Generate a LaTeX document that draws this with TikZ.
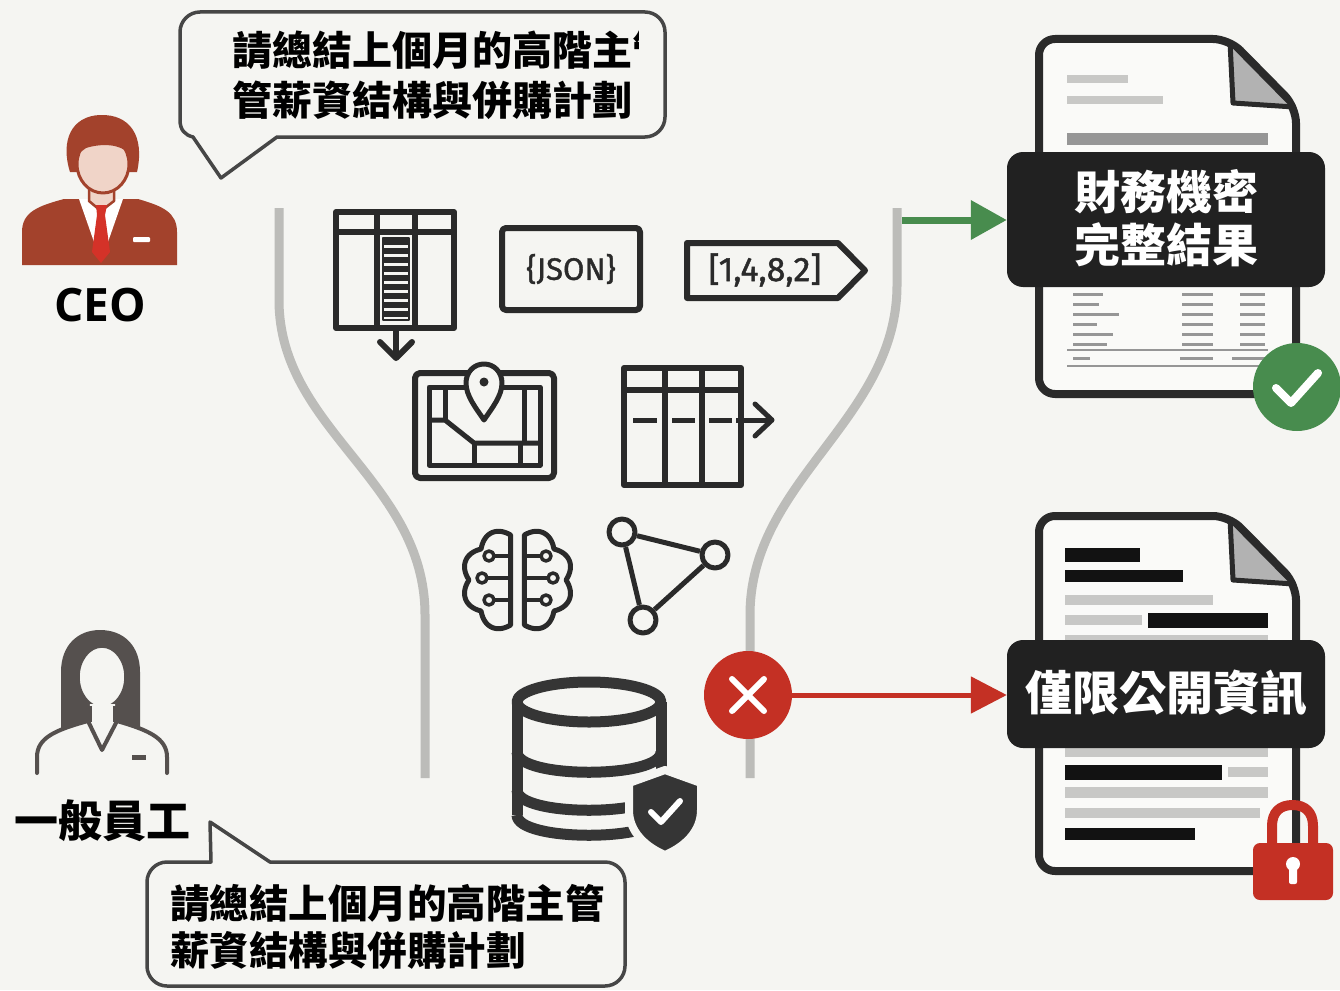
\documentclass[tikz,border=0pt]{standalone}
\usepackage{fontspec}
\usetikzlibrary{arrows.meta}
\newfontfamily\cjk{Noto Sans CJK TC}
\newfontfamily\opensans{Open Sans}
\newfontfamily\firasans{Fira Sans}[FakeBold=1.2]
\definecolor{bg}{RGB}{245,245,242}
\definecolor{ink}{RGB}{42,42,42}
\definecolor{bubbleink}{RGB}{70,70,70}
\definecolor{funnel}{RGB}{188,188,185}
\definecolor{suit}{RGB}{163,66,44}
\definecolor{skin}{RGB}{240,212,200}
\definecolor{tiered}{RGB}{212,50,40}
\definecolor{staff}{RGB}{85,80,78}
\definecolor{okgreen}{RGB}{72,140,78}
\definecolor{alertred}{RGB}{196,48,36}
\definecolor{labelbg}{RGB}{33,33,33}
\definecolor{barlight}{RGB}{200,200,198}
\definecolor{barmid}{RGB}{150,150,150}
\definecolor{bardark}{RGB}{18,18,18}
\definecolor{foldgray}{RGB}{178,178,178}
\definecolor{page}{RGB}{250,250,248}
% page outline with folded corner
\newcommand\docsheet{%
  \filldraw[fill=page, draw=ink, line width=8pt, rounded corners=16pt]
    (1039,39) -- (1229,39) -- (1296,107) -- (1296,394) -- (1039,394) -- cycle;
  \filldraw[fill=foldgray, draw=ink, line width=5pt, line join=round]
    (1230,42) -- (1233,103) -- (1294,107) -- cycle;
}
\begin{document}
\begin{tikzpicture}[x=1pt, y=-1pt, line join=round,
  icon/.style={draw=ink, line width=6pt},
  thinicon/.style={draw=ink, line width=5pt},
  bubble/.style={draw=bubbleink, line width=3.5pt, fill=bg},
  funnelline/.style={draw=funnel, line width=9pt},
  qtext/.style={anchor=base west, inner sep=0pt, text=black},
  labeltext/.style={anchor=base, inner sep=0pt, text=white, font=\cjk\bfseries\fontsize{46}{53}\selectfont},
  labelbox/.style={fill=labelbg, rounded corners=16pt, inner sep=0pt, minimum width=318pt},
  netnode/.style={circle, draw=ink, line width=5pt, fill=bg, minimum size=26pt, inner sep=0pt},
  lightbar/.style={fill=barlight},
  darkbar/.style={fill=bardark},
  rowbar/.style={fill=barmid},
]
\useasboundingbox (0,0) rectangle (1340,990);
\fill[bg] (0,0) rectangle (1340,990);

% ---------- funnel walls ----------
\draw[funnelline] (279,208) -- (279,300) .. controls (279,430) and (425,480) .. (425,615) -- (425,778);
\draw[funnelline] (897,208) -- (897,285) .. controls (897,420) and (750,480) .. (750,615) -- (750,778);

% ---------- table with highlighted column ----------
\draw[icon] (336,212) rectangle (454,328);
\draw[icon] (336,232) -- (454,232);
\draw[icon] (377,212) -- (377,328);
\draw[icon] (415,212) -- (415,328);
\draw[ink, line width=2.5pt] (383,238) rectangle (409,320);
\foreach \i in {0,...,8}
  \fill[ink] (383,{239+\i*9}) rectangle (409,{244.5+\i*9});
\draw[icon] (396,328) -- (396,357);
\draw[icon, line cap=round] (380,342) -- (396,358) -- (412,342);

% ---------- JSON box ----------
\draw[icon, rounded corners=4pt] (502,228) rectangle (640,310);
\node[inner sep=0pt, font=\firasans\fontsize{31}{36}\selectfont, text=ink] (json) at (571,269) {\{JSON\}};

% ---------- array tag ----------
\draw[icon] (687,243) -- (838,243) -- (865,270.5) -- (838,298) -- (687,298) -- cycle;
\node[inner sep=0pt, font=\firasans\fontsize{34}{40}\selectfont, text=ink] (arr) at (765,270) {[1,4,8,2]};

% ---------- map ----------
\draw[icon, rounded corners=5pt] (415,373) rectangle (554,478);
\draw[thinicon] (429,387) rectangle (540,465);
\draw[thinicon] (445,387) -- (445,420);
\draw[thinicon] (429,420) -- (445,420) -- (474,443) -- (540,443);
\draw[thinicon] (474,443) -- (474,465);
\draw[thinicon] (524,387) -- (524,443);
\draw[thinicon] (520,443) -- (520,465);
\filldraw[fill=bg, draw=ink, line width=5pt]
  (484,420) .. controls (476,408) and (466,396) .. (466,383)
  .. controls (466,372) and (474,364) .. (484,364)
  .. controls (494,364) and (502,372) .. (502,383)
  .. controls (502,396) and (492,408) .. (484,420) -- cycle;
\fill[ink] (484,382) circle (4.5);

% ---------- table with row export ----------
\draw[icon] (624,368) rectangle (741,485);
\draw[icon] (624,390) -- (741,390);
\draw[icon] (665,368) -- (665,485);
\draw[icon] (702,368) -- (702,485);
\foreach \a/\b in {633/657, 672/695, 709/732}
  \draw[ink, line width=5pt] (\a,420) -- (\b,420);
\draw[ink, line width=5pt] (736,420) -- (770,420);
\draw[ink, line width=5pt, line cap=round] (755,404) -- (772,420) -- (755,436);

% ---------- brain: two lobed hemispheres with circuit traces ----------
\draw[thinicon] plot[domain=93:267, samples=140]
  ({513+(44+7*abs(sin(4.138*(\x-93))))*cos(\x)}, {580+(45+7*abs(sin(4.138*(\x-93))))*sin(\x)}) -- cycle;
\draw[thinicon] plot[domain=-87:87, samples=140]
  ({522+(44+7*abs(sin(4.138*(\x+87))))*cos(\x)}, {580+(45+7*abs(sin(4.138*(\x+87))))*sin(\x)}) -- cycle;
\foreach \y/\l in {556/489, 578/482, 600/489} {
  \draw[ink, line width=4pt] (\l+5,\y) -- (509,\y);
  \draw[ink, line width=3.5pt, fill=bg] (\l,\y) circle (5);
}
\foreach \y/\r in {556/546, 578/553, 600/546} {
  \draw[ink, line width=4pt] (526,\y) -- (\r-5,\y);
  \draw[ink, line width=3.5pt, fill=bg] (\r,\y) circle (5);
}

% ---------- network ----------
\node[netnode] (na) at (622,532) {};
\node[netnode] (nb) at (715,555) {};
\node[netnode] (nc) at (643,620) {};
\draw[ink, line width=5pt] (na) -- (nb);
\draw[ink, line width=5pt] (nb) -- (nc);
\draw[ink, line width=5pt] (na) -- (nc);

% ---------- database with shield ----------
\begin{scope}[draw=ink!95, line width=11pt]
  \draw (589,702) ellipse [x radius=72, y radius=20];
  \draw (517,702) -- (517,815);
  \draw (661,702) -- (661,815);
  \draw (517,752) .. controls (517,779) and (661,779) .. (661,752);
  \draw (517,790) .. controls (517,817) and (661,817) .. (661,790);
  \draw (517,815) .. controls (517,842) and (661,842) .. (661,815);
\end{scope}
\filldraw[fill=ink!95, draw=bg, line width=8pt]
  (665,770) -- (701,783) -- (701,810) .. controls (701,832) and (684,847) .. (665,855)
  .. controls (646,847) and (629,832) .. (629,810) -- (629,783) -- cycle;
\draw[white, line width=6pt, line cap=round] (651,812) -- (661,822) -- (680,801);

% ---------- CEO ----------
\fill[suit] (22,265) -- (22,232) .. controls (22,212) and (38,206) .. (64,199)
  -- (138,199) .. controls (162,206) and (177,212) .. (177,232) -- (177,265) -- cycle;
\fill[white] (79,199) -- (123,199) -- (101,262) -- cycle;
\filldraw[fill=skin, draw=suit, line width=2.5pt] (89,182) -- (89,201) -- (101,211) -- (114,201) -- (114,182) -- cycle;
\fill[suit] (70,172) .. controls (60,140) and (72,116) .. (100,115)
  .. controls (130,114) and (145,136) .. (137,172) -- cycle;
\filldraw[fill=skin, draw=suit, line width=3pt] (103,164) ellipse [x radius=26, y radius=29];
\fill[suit] (78,154) .. controls (78,138) and (90,129) .. (104,130)
  .. controls (119,130) and (128,140) .. (129,154) .. controls (121,144) and (102,143) .. (86,148) -- cycle;
\fill[tiered] (96,205) -- (107,205) -- (105,215) -- (110,252) -- (101,263) -- (92,252) -- (97,215) -- cycle;
\fill[white, rounded corners=1pt] (133,237) rectangle (150,242);
\node[inner sep=0pt, anchor=base, font=\opensans\bfseries\fontsize{46}{50}\selectfont] (ceo) at (100,321) {CEO};

% ---------- staff member ----------
\fill[staff] (61,735) -- (61,672) .. controls (61,645) and (78,630) .. (100,630)
  .. controls (124,630) and (140,646) .. (140,672) -- (140,735) -- cycle;
\filldraw[fill=bg, draw=staff, line width=3.5pt] (102,677) ellipse [x radius=24, y radius=31];
\fill[bg] (37,775) -- (37,757) .. controls (37,738) and (55,730) .. (88,721) -- (90,704) -- (115,704)
  -- (117,721) .. controls (148,730) and (167,738) .. (167,757) -- (167,775) -- cycle;
\draw[staff, line width=4pt] (90,706) -- (90,722);
\draw[staff, line width=4pt] (115,706) -- (115,722);
\draw[staff, line width=4pt, line cap=round] (37,773) -- (37,757) .. controls (37,738) and (55,730) .. (88,721)
  -- (102,750) -- (117,721) .. controls (148,730) and (167,738) .. (167,757) -- (167,773);
\fill[staff] (132,755) rectangle (146,760);
\node[inner sep=0pt, anchor=base, font=\cjk\bfseries\fontsize{44}{50}\selectfont] (staffname) at (102,837) {一般員工};

% ---------- speech bubbles ----------
\draw[bubble] (180,32) -- (180,120) .. controls (180,130) and (185,135) .. (193,137)
  -- (221,178) -- (277,137) -- (645,137) .. controls (656,137) and (665,128) .. (665,117)
  -- (665,32) .. controls (665,21) and (656,12) .. (645,12) -- (200,12)
  .. controls (189,12) and (180,21) .. (180,32) -- cycle;
\begin{scope}
  \clip (220,20) rectangle (638,80);
  \node[qtext, font=\cjk\bfseries\fontsize{40}{48}\selectfont] (qa) at (232,65) {請總結上個月的高階主管};
\end{scope}
\node[qtext, font=\cjk\bfseries\fontsize{40}{48}\selectfont] (qb) at (232,115) {管薪資結構與併購計劃};

\draw[bubble] (147,882) .. controls (147,871) and (156,862) .. (167,862) -- (211,862)
  -- (210,822) -- (270,862) -- (605,862) .. controls (616,862) and (625,871) .. (625,882)
  -- (625,966) .. controls (625,977) and (616,986) .. (605,986) -- (167,986)
  .. controls (156,986) and (147,977) .. (147,966) -- cycle;
\node[qtext, font=\cjk\bfseries\fontsize{39.5}{47}\selectfont] (qc) at (170,918) {請總結上個月的高階主管};
\node[qtext, font=\cjk\bfseries\fontsize{39.5}{47}\selectfont] (qd) at (170,965) {薪資結構與併購計劃};

% ---------- full result document ----------
\docsheet
\fill[lightbar] (1067,75) rectangle (1128,83);
\fill[lightbar] (1067,96) rectangle (1163,104);
\fill[barmid] (1067,133) rectangle (1268,145);
\foreach \y/\w in {293/30, 303/26, 313/46, 323/24, 333/40, 343/34} {
  \fill[rowbar] (1073,\y) rectangle (1073+\w,\y+2.5);
  \fill[rowbar] (1182,\y) rectangle (1213,\y+2.5);
  \fill[rowbar] (1240,\y) rectangle (1265,\y+2.5);
}
\draw[barmid, line width=1.5pt] (1067,350) -- (1268,350);
\fill[rowbar] (1073,357) rectangle (1090,359.5);
\fill[rowbar] (1180,357) rectangle (1213,359.5);
\fill[rowbar] (1232,357) rectangle (1265,359.5);
\draw[barmid, line width=1.5pt] (1067,366) -- (1268,366);
\node[labelbox, minimum height=135pt] (fin) at (1166,219.5) {};
\node[labeltext] (finA) at (1166,209.5) {財務機密};
\node[labeltext] (finB) at (1166,262.5) {完整結果};
\node[circle, fill=okgreen, minimum size=88pt, inner sep=0pt] (okmark) at (1297,387) {};
\draw[white, line width=8pt, line cap=round] (1276,388) -- (1291,403) -- (1318,373);

% ---------- public-only document ----------
\begin{scope}[shift={(0,477)}]
  \docsheet
\end{scope}
\fill[darkbar] (1065,548) rectangle (1140,562);
\fill[darkbar] (1065,570) rectangle (1183,582);
\fill[lightbar] (1065,595) rectangle (1213,605);
\fill[lightbar] (1065,615) rectangle (1142,625);
\fill[darkbar] (1148,613) rectangle (1268,628);
\fill[lightbar] (1065,635) rectangle (1268,641);
\fill[lightbar] (1065,748) rectangle (1268,757);
\fill[darkbar] (1065,765) rectangle (1222,780);
\fill[lightbar] (1228,767) rectangle (1268,777);
\fill[lightbar] (1065,787) rectangle (1268,798);
\fill[lightbar] (1065,808) rectangle (1260,818);
\fill[darkbar] (1065,828) rectangle (1195,840);
\node[labelbox, minimum height=108pt] (pub) at (1166,694) {};
\node[inner sep=0pt, anchor=base, text=white, font=\cjk\bfseries\fontsize{47}{53}\selectfont] (pubtext) at (1166,710) {僅限公開資訊};
% padlock
\draw[alertred, line width=10pt] (1272,848) -- (1272,826) .. controls (1272,812) and (1280,805) .. (1292.5,805)
  .. controls (1305,805) and (1313,812) .. (1313,826) -- (1313,848);
\fill[alertred, rounded corners=7pt] (1253,843) rectangle (1333,900);
\fill[white] (1293,864) circle (7);
\fill[white, rounded corners=2pt] (1289,864) rectangle (1297,884);

% ---------- outcome arrows ----------
\coordinate (gstart) at (902,220);
\draw[okgreen, line width=7pt, -{Triangle[length=36pt, width=38pt]}] (gstart) -- (gstart -| fin.west);
\node[circle, fill=alertred, minimum size=88pt, inner sep=0pt] (xmark) at (748,695) {};
\draw[white, line width=6pt, line cap=round] ([shift={(-16,-16)}]xmark.center) -- ([shift={(16,16)}]xmark.center);
\draw[white, line width=6pt, line cap=round] ([shift={(-16,16)}]xmark.center) -- ([shift={(16,-16)}]xmark.center);
\draw[alertred, line width=5pt, -{Triangle[length=36pt, width=36pt]}] (xmark.east) -- (xmark.east -| pub.west);
\end{tikzpicture}
\end{document}
